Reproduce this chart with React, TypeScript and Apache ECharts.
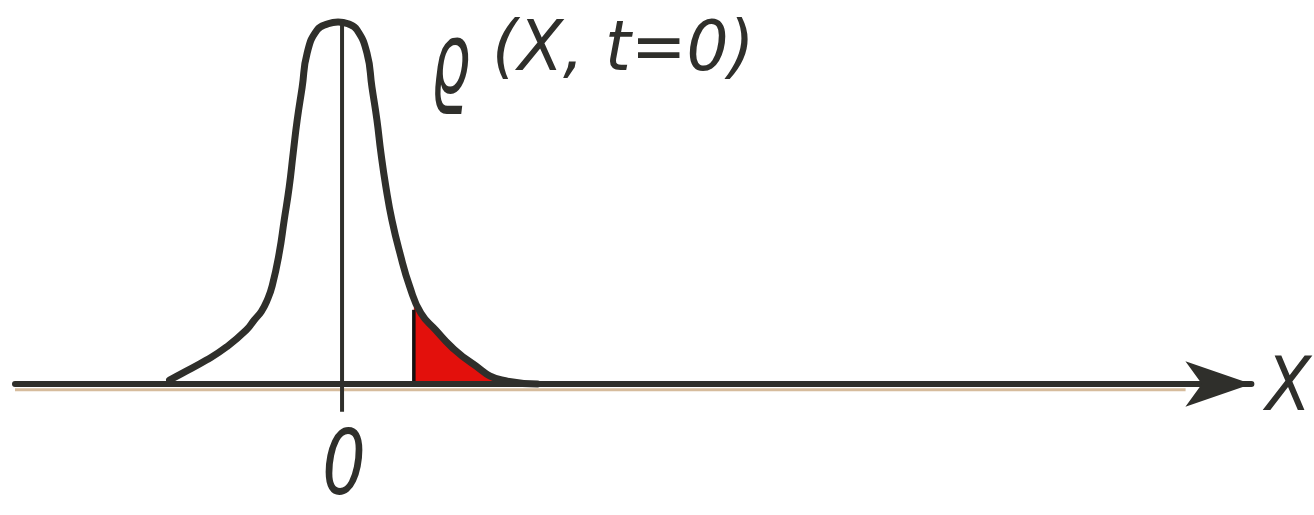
import React, { useEffect, useRef } from "react";
import * as echarts from "echarts";

// Density profile ϱ(x, t=0): positions along x, heights relative to the peak
const curveX = [-1.69, -1.56, -1.32, -1.12, -0.92, -0.84, -0.77, -0.71, -0.66, -0.59, -0.54, -0.49, -0.45, -0.41, -0.36, -0.31, -0.21, -0.1, 0, 0.1, 0.19, 0.29, 0.34, 0.39, 0.43, 0.48, 0.54, 0.62, 0.72, 0.83, 0.98, 1.14, 1.34, 1.64, 2.0];
const curveV = [0.011, 0.03, 0.066, 0.102, 0.149, 0.177, 0.2, 0.232, 0.272, 0.362, 0.453, 0.544, 0.638, 0.729, 0.82, 0.914, 0.978, 0.995, 1.0, 0.995, 0.978, 0.914, 0.82, 0.729, 0.638, 0.544, 0.453, 0.362, 0.268, 0.196, 0.149, 0.102, 0.058, 0.011, 0];

// Shaded tail beyond the cut
const tailX = [0.76, 0.83, 0.98, 1.14, 1.34, 1.64, 2.0];
const tailV = [0.24, 0.196, 0.149, 0.102, 0.058, 0.011, 0];
const cutX = 0.76;
const cutTop = 0.205;

// Vertical reference line through the origin
const originX = 0.04;
const originSpan = [-0.077, 0.994];

// Axis range
const xMin = -3.24;
const xMax = 9.16;
const yMin = -0.35;
const yMax = 1.05;

const axisName = "X";
const originLabel = "0";
const curveSymbol = "ϱ";
const curveArgs = "(X, t=0)";

const INK = "#2f2f2b";
const HAND_FONT = '"DejaVu Sans Condensed", "DejaVu Sans", sans-serif';

export default function App() {
  const ref = useRef<HTMLDivElement>(null);

  useEffect(() => {
    if (!ref.current) return;
    const chart = echarts.init(ref.current, undefined, { renderer: "svg" });
    const handText = (size: number) => ({
      fontFamily: HAND_FONT,
      fontStyle: "italic",
      fontSize: size,
      fill: INK,
    });
    chart.setOption({
      animation: false,
      backgroundColor: "#ffffff",
      grid: { left: 15, right: 59, top: 3.9, bottom: 4.3 },
      xAxis: {
        type: "value",
        min: xMin,
        max: xMax,
        z: 5,
        axisLine: {
          onZero: true,
          symbol: ["none", "arrow"],
          symbolSize: [34, 66],
          lineStyle: { color: INK, width: 6 },
        },
        axisTick: { show: false },
        axisLabel: { show: false },
        splitLine: { show: false },
        name: axisName,
        nameLocation: "end",
        nameGap: 14,
        nameTextStyle: {
          fontFamily: HAND_FONT,
          fontStyle: "italic",
          fontSize: 74,
          color: INK,
          verticalAlign: "middle",
        },
      },
      yAxis: {
        type: "value",
        min: yMin,
        max: yMax,
        show: false,
      },
      graphic: [
        {
          // tall, hand-lettered rho
          type: "text",
          x: 431,
          y: 59,
          scaleX: 1.0,
          scaleY: 1.47,
          style: { ...handText(68), text: curveSymbol, verticalAlign: "middle" },
        },
        {
          type: "text",
          x: 492,
          y: 11,
          scaleX: 1.05,
          style: { ...handText(70), text: curveArgs, verticalAlign: "top" },
        },
        {
          type: "text",
          x: 344,
          y: 463,
          scaleY: 1.16,
          style: {
            ...handText(76),
            text: originLabel,
            align: "center",
            verticalAlign: "middle",
          },
        },
      ],
      series: [
        {
          // tan scanner shadow along the underside of the axis
          type: "line",
          data: [
            [xMin, -0.016],
            [8.5, -0.016],
          ],
          symbol: "none",
          lineStyle: { color: "rgba(196,160,115,0.7)", width: 3 },
          z: 0,
          silent: true,
        },
        {
          type: "line",
          data: tailX.map((x, i) => [x, tailV[i]]),
          smooth: 0.5,
          symbol: "none",
          lineStyle: { width: 0 },
          areaStyle: { color: "#e3100c", opacity: 1 },
          z: 1,
          clip: false,
        },
        {
          type: "line",
          data: [
            [cutX, 0],
            [cutX, cutTop],
          ],
          symbol: "none",
          lineStyle: { color: "#141010", width: 3.5 },
          z: 2,
          clip: false,
        },
        {
          type: "line",
          data: [
            [originX, originSpan[0]],
            [originX, originSpan[1]],
          ],
          symbol: "none",
          lineStyle: { color: INK, width: 4 },
          z: 2,
          clip: false,
        },
        {
          type: "line",
          data: curveX.map((x, i) => [x, curveV[i]]),
          smooth: 0.5,
          symbol: "none",
          lineStyle: { color: INK, width: 7, cap: "round" },
          z: 3,
          clip: false,
        },
      ],
    });
    return () => chart.dispose();
  }, []);

  return (
    <div
      ref={ref}
      style={{ position: "absolute", left: 0, top: 0, width: 1314, height: 515 }}
    />
  );
}
